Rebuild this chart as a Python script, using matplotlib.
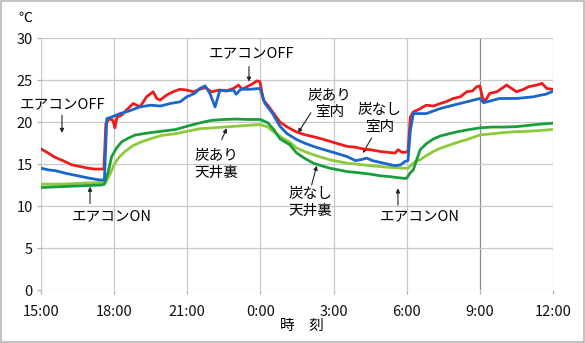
import matplotlib
matplotlib.use("Agg")
import matplotlib.pyplot as plt
from matplotlib.patches import Rectangle

plt.rcParams['font.family'] = ['Noto Sans CJK JP', 'DejaVu Sans']

# hours elapsed since 15:00
tick_hours = [0, 3, 6, 9, 12, 15, 18, 21]
tick_labels = ["15:00", "18:00", "21:00", "0:00", "3:00", "6:00", "9:00", "12:00"]
y_ticks = [0, 5, 10, 15, 20, 25, 30]

# 炭あり 室内 (red)
red_h = [0, 0.3, 0.57, 0.9, 1.26, 1.6, 1.93, 2.2, 2.5, 2.58, 2.66, 2.8, 2.95, 3.03, 3.12, 3.3,
         3.5, 3.78, 4.06, 4.33, 4.6, 4.75, 4.88, 5.15, 5.42, 5.7, 5.98, 6.25, 6.52, 6.73, 7.0,
         7.3, 7.6, 7.9, 8.1, 8.25, 8.45, 8.65, 8.86, 8.98, 9.12, 9.3, 9.55, 9.8, 10.1, 10.49,
         10.8, 11.17, 11.5, 11.85, 12.2, 12.54, 12.9, 13.2, 13.5, 13.9, 14.2, 14.52, 14.65,
         14.8, 14.95, 15.05, 15.15, 15.27, 15.5, 15.8, 16.1, 16.37, 16.6, 16.9, 17.2, 17.46,
         17.7, 17.87, 18.0, 18.1, 18.2, 18.4, 18.7, 19.1, 19.3, 19.5, 19.8, 20.0, 20.33,
         20.55, 20.74, 20.95]
red_t = [16.8, 16.3, 15.8, 15.4, 14.9, 14.7, 14.5, 14.4, 14.4, 14.4, 19.8, 20.4, 20.2, 19.3,
         20.6, 20.8, 21.4, 22.2, 21.8, 23.0, 23.6, 22.8, 22.6, 23.2, 23.6, 23.9, 23.8, 23.6,
         23.9, 24.1, 23.6, 23.8, 23.7, 24.0, 24.4, 23.9, 24.2, 24.5, 24.9, 24.8, 22.6, 22.0,
         21.0, 20.0, 19.4, 18.8, 18.5, 18.25, 18.0, 17.7, 17.4, 17.1, 17.0, 16.8, 16.7, 16.5,
         16.4, 16.3, 16.7, 16.4, 16.4, 16.5, 20.6, 21.2, 21.5, 22.0, 21.9, 22.2, 22.4, 22.8,
         23.0, 23.6, 23.7, 24.2, 24.3, 23.0, 22.4, 23.4, 23.6, 24.4, 24.0, 23.6, 23.9, 24.2,
         24.4, 24.6, 24.0, 23.9]

# 炭なし 室内 (blue)
blue_h = [0, 0.3, 0.6, 1.0, 1.5, 2.0, 2.42, 2.6, 2.7, 2.9, 3.24, 3.6, 4.06, 4.5, 4.9, 5.3,
          5.7, 5.98, 6.3, 6.52, 6.73, 6.93, 7.14, 7.34, 7.6, 7.9, 8.0, 8.2, 8.6, 8.98, 9.19,
          9.5, 9.8, 10.1, 10.49, 10.8, 11.17, 11.5, 11.85, 12.2, 12.54, 12.9, 13.1, 13.36,
          13.6, 13.9, 14.2, 14.52, 14.75, 14.93, 15.05, 15.15, 15.27, 15.8, 16.37, 16.9,
          17.46, 18.0, 18.15, 18.3, 18.8, 19.5, 20.2, 20.5, 20.7, 20.95]
blue_t = [14.5, 14.3, 14.2, 13.9, 13.6, 13.3, 13.1, 13.1, 20.4, 20.6, 21.0, 21.3, 21.8, 22.0,
          21.9, 22.2, 22.4, 23.0, 23.4, 24.0, 24.3, 23.4, 21.8, 23.8, 23.7, 23.8, 23.3, 23.9,
          23.9, 24.0, 22.2, 21.0, 19.5, 18.6, 17.9, 17.5, 17.1, 16.8, 16.5, 16.2, 15.9, 15.4,
          15.5, 15.7, 15.4, 15.2, 15.0, 14.8, 14.9, 15.3, 15.4, 19.0, 21.0, 21.0, 21.6, 22.0,
          22.4, 22.8, 22.3, 22.4, 22.8, 22.8, 23.0, 23.2, 23.3, 23.6]

# 炭なし 天井裏 (dark green)
dgreen_h = [0, 0.8, 1.6, 2.49, 2.6, 2.75, 2.9, 3.1, 3.31, 3.6, 3.86, 4.4, 4.95, 5.5, 6.0,
            6.52, 7.0, 7.5, 8.0, 8.5, 9.0, 9.3, 9.55, 9.8, 10.2, 10.49, 10.8, 11.17, 11.5,
            11.85, 12.2, 12.54, 12.9, 13.2, 13.5, 13.9, 14.3, 14.85, 15.0, 15.13, 15.27,
            15.55, 15.8, 16.1, 16.4, 16.8, 17.1, 17.46, 18.0, 18.5, 19.0, 19.5, 20.0, 20.5,
            20.95]
dgreen_t = [12.2, 12.3, 12.4, 12.5, 12.6, 14.0, 15.9, 16.9, 17.65, 18.1, 18.45, 18.7, 18.9,
            19.1, 19.5, 19.9, 20.2, 20.3, 20.35, 20.3, 20.3, 19.9, 19.1, 18.0, 17.3, 16.3,
            15.7, 15.1, 14.8, 14.5, 14.3, 14.1, 14.0, 13.9, 13.8, 13.6, 13.5, 13.3, 13.3,
            13.9, 14.3, 16.7, 17.4, 18.0, 18.35, 18.65, 18.85, 19.05, 19.3, 19.4, 19.4,
            19.45, 19.6, 19.75, 19.85]

# 炭あり 天井裏 (light green)
lgreen_h = [0, 0.8, 1.6, 2.49, 2.65, 2.8, 3.03, 3.2, 3.45, 3.78, 4.13, 4.6, 4.95, 5.5, 6.0,
            6.52, 7.0, 7.5, 8.0, 8.5, 9.0, 9.3, 9.55, 9.8, 10.2, 10.49, 10.8, 11.17, 11.5,
            11.85, 12.2, 12.54, 12.9, 13.2, 13.5, 13.9, 14.3, 14.85, 15.05, 15.2, 15.35,
            15.55, 15.8, 16.1, 16.4, 16.8, 17.1, 17.46, 18.0, 18.5, 19.0, 19.5, 20.0, 20.5,
            20.95]
lgreen_t = [12.6, 12.6, 12.7, 12.8, 12.8, 13.6, 15.1, 15.8, 16.5, 17.2, 17.65, 18.1, 18.4,
            18.6, 18.9, 19.2, 19.3, 19.4, 19.5, 19.6, 19.7, 19.4, 18.8, 18.3, 17.6, 16.9,
            16.5, 16.1, 15.8, 15.5, 15.3, 15.1, 15.0, 14.9, 14.8, 14.7, 14.6, 14.5, 14.5,
            14.9, 15.3, 15.5, 16.0, 16.5, 16.9, 17.3, 17.6, 17.9, 18.45, 18.6, 18.75, 18.85,
            18.9, 19.0, 19.1]

fig = plt.figure(figsize=(5.85, 3.43), dpi=100)
ax = fig.add_axes([41 / 585, 1 - 290 / 343, 512 / 585, 252 / 343])

lw = 2.0
ax.plot(lgreen_h, lgreen_t, color="#8dc93a", lw=lw, zorder=3)
ax.plot(dgreen_h, dgreen_t, color="#1a9e3c", lw=lw, zorder=4)
ax.plot(red_h, red_t, color="#ee1c1c", lw=lw, zorder=5)
ax.plot(blue_h, blue_t, color="#1b66c9", lw=lw, zorder=6)

ax.set_xlim(0, 21)
ax.set_ylim(0, 30)
ax.set_xticks(tick_hours)
ax.set_xticklabels(tick_labels)
ax.set_yticks(y_ticks)
ax.grid(True, color="#c9c9c9", lw=0.9)
# the 9:00 line is drawn a bit darker
ax.get_xgridlines()[6].set_color("#8a8a8a")
for s in ax.spines.values():
    s.set_visible(False)
ax.tick_params(axis="both", colors="#b0b0b0", labelcolor="#111111", labelsize=10.5,
               length=3, width=0.9)
ax.tick_params(axis="x", pad=8)
ax.tick_params(axis="y", pad=3)

fs = 10.5
arrow = dict(arrowstyle="-|>", color="#222222", lw=0.8, mutation_scale=6,
             shrinkA=0, shrinkB=0)

ax.text(0.9, 22.1, "エアコンOFF", ha="center", va="center", fontsize=fs)
ax.annotate("", xy=(0.86, 18.7), xytext=(0.86, 20.8), arrowprops=arrow)

ax.text(8.65, 28.2, "エアコンOFF", ha="center", va="center", fontsize=fs)
ax.annotate("", xy=(8.53, 24.8), xytext=(8.53, 26.6), arrowprops=arrow)

ax.text(11.85, 22.2, "炭あり\n室内", ha="center", va="center", fontsize=fs, linespacing=1.25)
ax.annotate("", xy=(10.54, 18.7), xytext=(11.07, 21.1), arrowprops=arrow)

ax.text(13.9, 20.4, "炭なし\n室内", ha="center", va="center", fontsize=fs, linespacing=1.25)
ax.annotate("", xy=(13.2, 16.3), xytext=(13.56, 18.1), arrowprops=arrow)

ax.text(7.18, 15.0, "炭あり\n天井裏", ha="center", va="center", fontsize=fs, linespacing=1.25)
ax.annotate("", xy=(7.62, 19.25), xytext=(7.41, 17.9), arrowprops=arrow)

ax.text(11.05, 10.4, "炭なし\n天井裏", ha="center", va="center", fontsize=fs, linespacing=1.25)
ax.annotate("", xy=(11.31, 14.8), xytext=(11.1, 12.5), arrowprops=arrow)

ax.text(2.91, 8.8, "エアコンON", ha="center", va="center", fontsize=fs)
ax.annotate("", xy=(2.01, 12.3), xytext=(2.01, 10.3), arrowprops=arrow)

ax.text(15.55, 8.8, "エアコンON", ha="center", va="center", fontsize=fs)
ax.annotate("", xy=(14.64, 12.1), xytext=(14.64, 10.1), arrowprops=arrow)

fig.text(25 / 585, 1 - 18 / 343, "℃", ha="center", va="center", fontsize=10)
fig.text(302 / 585, 1 - 326 / 343, "時　刻", ha="center", va="center", fontsize=10.5)

# thin frame around the whole figure
fig.patches.append(Rectangle((0.001, 0.002), 0.997, 0.995, transform=fig.transFigure,
                             fill=False, edgecolor="#b8b8b8", lw=1.2))

fig.savefig("out.png", dpi=100)
